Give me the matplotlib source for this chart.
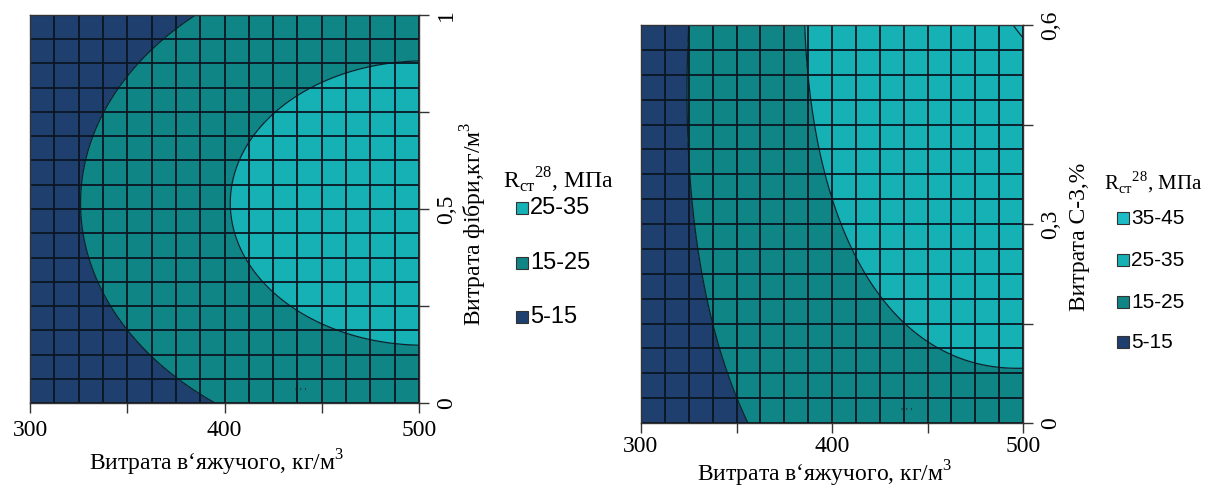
import numpy as np
import matplotlib
matplotlib.use("Agg")
import matplotlib.pyplot as plt
from matplotlib.colors import ListedColormap
from matplotlib.patches import Rectangle

plt.rcParams['font.family'] = ['Liberation Serif', 'DejaVu Serif']
plt.rcParams['mathtext.fontset'] = 'custom'
plt.rcParams['mathtext.rm'] = 'Liberation Serif'

# regression coefficients (coded factors X1, X2 in [-1, 1])
# order: b0, b1, b2, b11, b22, b12
coef_left = [24.71, 9.65, 0.53, -4.7, -8.70, 0.0]
coef_right = [24.53, 10.14, 3.845, -4.3, -1.485, 2.49]

x_range = [300, 500]            # binder, kg/m3
y_left_range = [0, 1]           # fibre, kg/m3
y_right_range = [0, 0.6]        # C-3, %

bands_left = [5, 15, 25, 35]
labels_left = ['5-15', '15-25', '25-35']
bands_right = [5, 15, 25, 35, 45]
labels_right = ['5-15', '15-25', '25-35', '35-45']

band_colors = ['#1f3f6e', '#0f8585', '#16b1b5', '#1bbcc6']

xticks = [300, 350, 400, 450, 500]
xticklabels = ['300', '', '400', '', '500']
yticks_left = [0, 0.25, 0.5, 0.75, 1]
yticklabels_left = ['0', '', '0,5', '', '1']
yticks_right = [0, 0.15, 0.3, 0.45, 0.6]
yticklabels_right = ['0', '', '0,3', '', '0,6']


def surface(coef, xr, yr, n=300):
    x = np.linspace(xr[0], xr[1], n)
    y = np.linspace(yr[0], yr[1], n)
    X, Y = np.meshgrid(x, y)
    x1 = (X - (xr[0] + xr[1]) / 2) / ((xr[1] - xr[0]) / 2)
    x2 = (Y - (yr[0] + yr[1]) / 2) / ((yr[1] - yr[0]) / 2)
    b0, b1, b2, b11, b22, b12 = coef
    Z = b0 + b1 * x1 + b2 * x2 + b11 * x1 ** 2 + b22 * x2 ** 2 + b12 * x1 * x2
    return X, Y, Z


def draw(ax, coef, yr, bands, yticks, yticklabels, ylabel, xl_y, yl_x, yl_y, xpad):
    X, Y, Z = surface(coef, x_range, yr)
    levels = list(bands)
    levels[0] = min(levels[0], Z.min() - 0.1)
    cmap = ListedColormap(band_colors[:len(bands) - 1])
    ax.contourf(X, Y, Z, levels=levels, cmap=cmap)
    ax.contour(X, Y, Z, levels=bands[1:-1], colors='#10202a', linewidths=0.9)
    # 16 x 16 mesh
    for gx in np.linspace(x_range[0], x_range[1], 17):
        ax.axvline(gx, color='#0a1622', lw=1.3)
    for gy in np.linspace(yr[0], yr[1], 17):
        ax.axhline(gy, color='#0a1622', lw=1.3)
    ax.set_xlim(x_range)
    ax.set_ylim(yr)
    ax.set_xticks(xticks)
    ax.set_xticklabels(xticklabels, fontsize=17)
    ax.yaxis.tick_right()
    ax.set_yticks(yticks)
    ax.set_yticklabels(yticklabels, fontsize=17, rotation=90, va='center')
    ax.tick_params(direction='out', length=7, width=1, color='#333333', pad=5)
    ax.tick_params(axis='x', pad=xpad)
    for s in ax.spines.values():
        s.set_color('#333333')
        s.set_linewidth(1)
    ax.set_xlabel('Витрата в‘яжучого, кг/м$^3$', fontsize=17)
    ax.xaxis.label.set(va='center')
    ax.xaxis.set_label_coords(0.48, xl_y)
    ax.set_ylabel(ylabel, fontsize=17)
    ax.yaxis.set_label_position('right')
    ax.yaxis.label.set(rotation=90, ha='center', va='center', rotation_mode='default')
    ax.yaxis.set_label_coords(yl_x, yl_y)
    ax.text(436, yr[0] + 0.02 * (yr[1] - yr[0]), "' ' '", fontsize=8, color='#20303a')


def legend(fig, x0, y_title, y_items, labels, fs):
    # y_items / labels go from the top entry (highest band) downwards
    W, H = fig.get_size_inches() * fig.dpi
    fig.text(x0 / W, 1 - y_title / H, 'R$_{\\mathregular{ст}}$$^{\\mathregular{28}}$, МПа',
             fontsize=fs, ha='left', va='center')
    cols = band_colors[:len(labels)][::-1]
    for yy, lab, col in zip(y_items, labels, cols):
        fig.add_artist(Rectangle(((x0 + 13) / W, 1 - (yy + 6) / H), 12 / W, 12 / H,
                                 transform=fig.transFigure, facecolor=col,
                                 edgecolor='#333333', lw=0.8))
        fig.text((x0 + 27) / W, 1 - yy / H, lab, fontsize=fs, ha='left', va='center',
                 family='Liberation Sans')


fig = plt.figure(figsize=(12.19, 4.9), dpi=100)
ax1 = fig.add_axes([30 / 1219, 87 / 490, 389 / 1219, 388 / 490])
ax2 = fig.add_axes([641 / 1219, 67 / 490, 382 / 1219, 398 / 490])

draw(ax1, coef_left, y_left_range, bands_left, yticks_left, yticklabels_left,
     'Витрата фібри,кг/м$^3$', -0.155, 1.14, 0.461, 5)
draw(ax2, coef_right, y_right_range, bands_right, yticks_right, yticklabels_right,
     'Витрата С-3,%', -0.127, 1.148, 0.467, 2)

legend(fig, 503, 180, [208, 263, 317], labels_left[::-1], 17)
legend(fig, 1104, 182, [218, 260, 302, 342], labels_right[::-1], 15)

fig.savefig('out.png', dpi=100)
